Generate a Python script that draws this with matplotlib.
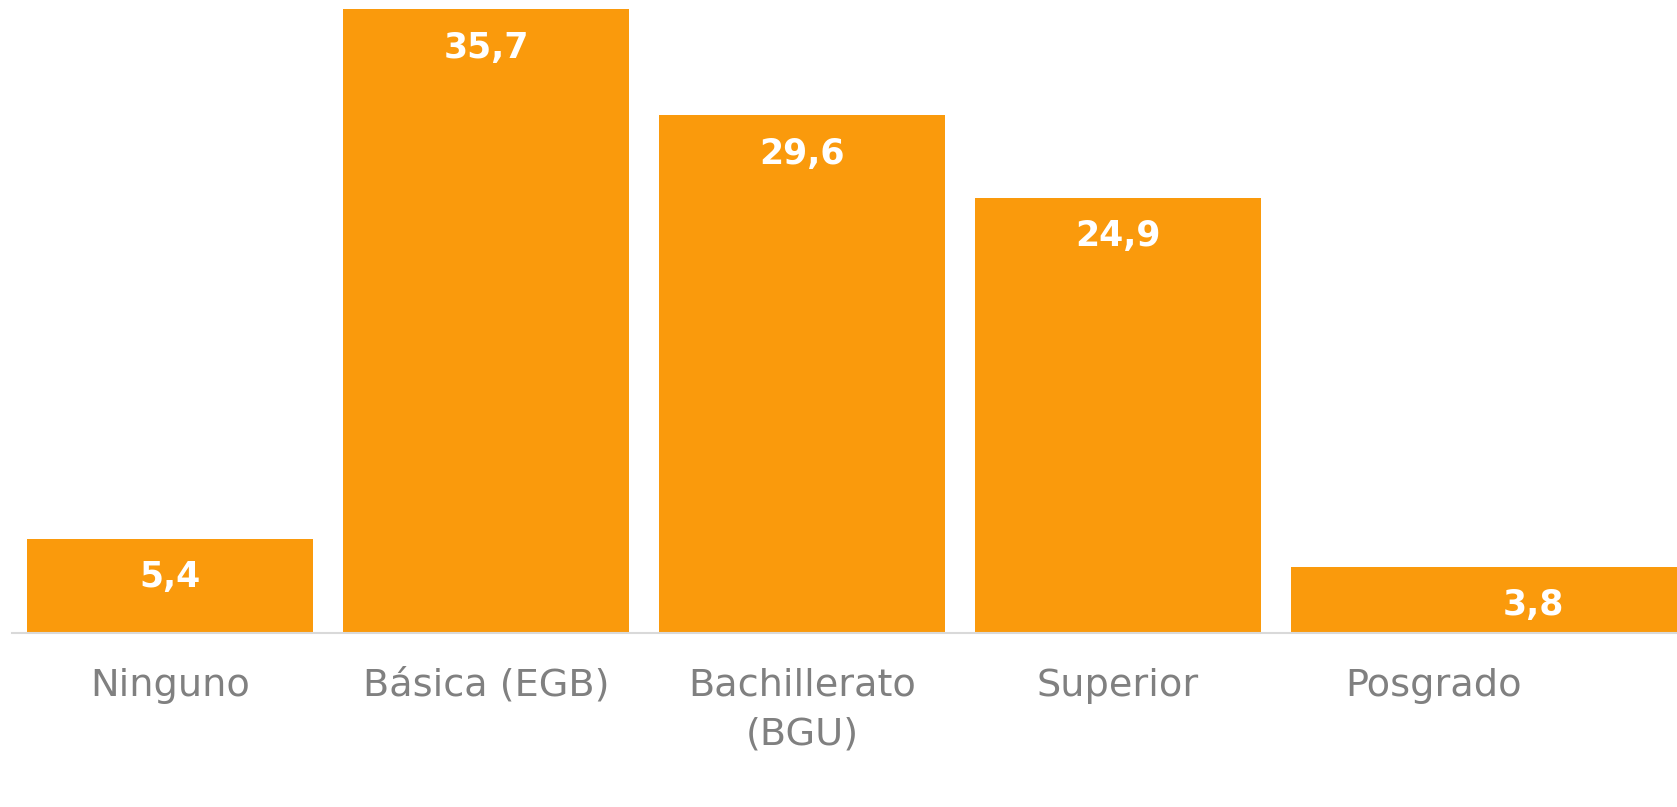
import matplotlib.pyplot as plt

# data
categories = ["Ninguno", "Básica (EGB)", "Bachillerato\n(BGU)", "Superior", "Posgrado"]
values = [5.4, 35.7, 29.6, 24.9, 3.8]
labels = ["5,4", "35,7", "29,6", "24,9", "3,8"]

BAR_COLOR = "#FA9A0C"
GRAY = "#808080"

plt.rcParams['font.family'] = ['DejaVu Sans']

fig = plt.figure(figsize=(16.77, 8.07), dpi=100)
ax = fig.add_axes([12 / 1677, 174 / 807, 1 - 12 / 1677, 633 / 807])

x = list(range(len(categories)))
# the last bar runs past the right edge in the reference
widths = [0.908, 0.908, 0.908, 0.908, 1.54]
lefts = [i - 0.454 for i in x]
bars = ax.bar(lefts, values, width=widths, align='edge', color=BAR_COLOR)

for b, lab in zip(bars, labels):
    cx = b.get_x() + b.get_width() / 2
    ax.annotate(lab, (cx, b.get_height()), xytext=(0, -28), textcoords='offset points',
                ha='center', va='center', color='white', fontsize=25, fontweight='bold')

ax.set_xlim(-0.5, (1677 - 12) / 316 - 0.5)
ax.set_ylim(0, 36.2)
ax.set_xticks(x)
ax.set_xticklabels(categories, fontsize=27.5, color=GRAY, linespacing=1.45)
ax.tick_params(axis='x', length=0, pad=25)
ax.set_yticks([])
for s in ['top', 'right', 'left']:
    ax.spines[s].set_visible(False)
ax.spines['bottom'].set_color('#D9D9D9')
ax.spines['bottom'].set_linewidth(1.5)

fig.savefig("out.png", dpi=100)
